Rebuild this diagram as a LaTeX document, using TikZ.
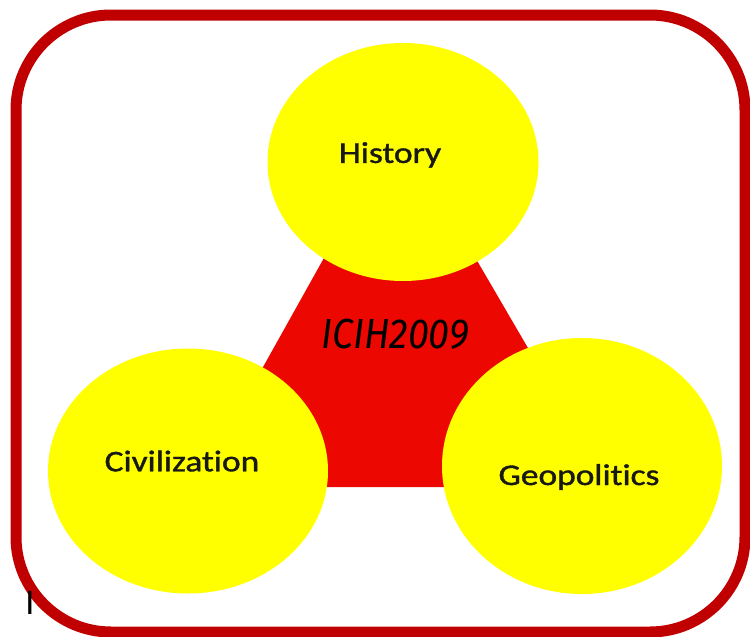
\documentclass[tikz,border=0pt]{standalone}
\usepackage{fontspec}
\setmainfont{Carlito}[Ligatures=NoCommon]
\newfontfamily\labelfont{Carlito}[Ligatures=NoCommon, FakeBold=1.2]
\newfontfamily\hand{Fira Sans}
\usetikzlibrary{shapes.geometric}
\definecolor{frame}{RGB}{192,0,0}
\definecolor{tri}{RGB}{236,8,0}
\definecolor{yel}{RGB}{255,255,0}
\definecolor{txt}{RGB}{25,25,20}
\tikzset{
  topic/.style={ellipse, fill=yel, draw=none, inner sep=0pt},
  topiclabel/.style={text=txt, font=\labelfont\fontsize{30}{36}\selectfont, inner sep=0pt}
}
\begin{document}
\begin{tikzpicture}[x=1pt,y=-1pt]
\useasboundingbox (0,0) rectangle (750,637);
\fill[white] (0,0) rectangle (750,637);
\draw[frame, line width=11pt, rounded corners=95pt] (16,15) rectangle (745,632);
\fill[tri] (334,240) -- (465,240) -- (609,487) -- (196,487) -- cycle;
\node[topic, minimum width=271pt, minimum height=238pt] (hist) at (403,162) {};
\node[topic, minimum width=280pt, minimum height=245pt] (civ) at (188,471) {};
\node[topic, minimum width=280pt, minimum height=256pt] (geo) at (582,466) {};
\node[topiclabel] (histl) at (390,155) {\scalebox{1.18}[1]{History}};
\node[topiclabel] (civl) at (182,461) {\scalebox{1.18}[1]{Civilization}};
\node[topiclabel] (geol) at (579,477) {\scalebox{1.18}[1]{Geopolitics}};
\node[text=black, inner sep=0pt] (logo) at (395,334) {\scalebox{0.9}[1]{\hand\itshape\fontsize{42}{48}\selectfont ICIH2009}};
\node[text=black, inner sep=0pt, font=\fontsize{36}{40}\selectfont] (cursor) at (30,603) {I};
\end{tikzpicture}
\end{document}
